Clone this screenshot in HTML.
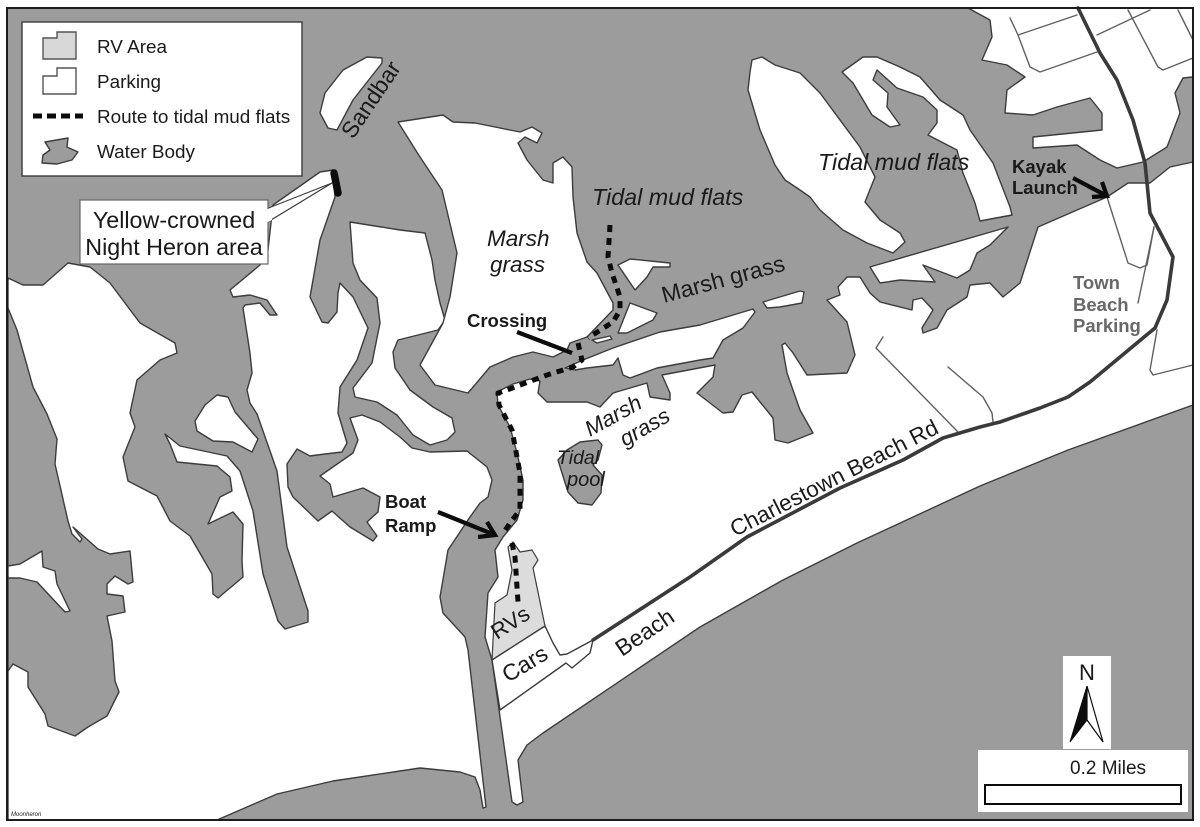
<!DOCTYPE html>
<html><head><meta charset="utf-8"><style>
html,body{margin:0;padding:0;background:#fff}
svg{display:block;filter:blur(0.35px)}
text{font-family:"Liberation Sans",sans-serif;fill:#1a1a1a}
.l{fill:#fff;stroke:#3c3c3c;stroke-width:1.4;stroke-linejoin:round}
.w{fill:#9c9c9c;stroke:#3c3c3c;stroke-width:1.4;stroke-linejoin:round}
.s{fill:none;stroke:#606060;stroke-width:1.4;stroke-linejoin:round;stroke-linecap:round}
.b{font-weight:bold;font-size:18.5px}
.i{font-style:italic}
.g{fill:#686868}
.d{fill:none;stroke:#0c0c0c;stroke-width:5;stroke-dasharray:7 6;stroke-linejoin:round}
.a{fill:none;stroke:#0c0c0c;stroke-width:4.2;stroke-linejoin:miter}
.r{fill:none;stroke:#3a3a3a;stroke-width:3.6;stroke-linejoin:round;stroke-linecap:round}
</style></head><body>
<svg width="1200" height="827" viewBox="0 0 1200 827" xmlns="http://www.w3.org/2000/svg">
<rect width="1200" height="827" fill="#fff"/>
<rect x="7" y="8" width="1186" height="812" fill="#9c9c9c"/>

<!-- West / main land -->
<polygon class="l" points="8,278 23,285 43,285 68,263 90,267 110,283 140,323 175,343 177,353 160,360 137,380 130,413 135,427 123,457 128,481 157,496 170,521 190,536 212,574 213,594 218,598 243,577 242,561 243,524 233,512 208,524 220,497 232,491 230,477 217,466 177,462 170,444 165,434 180,446 227,456 240,471 253,511 263,574 278,621 285,629 308,622 308,611 287,547 277,471 263,431 257,414 250,403 247,390 252,373 250,353 243,308 245,305 260,303 270,315 277,315 267,300 250,295 233,297 230,290 260,265 268,250 273,205 320,172 333,170 335,197 320,240 310,297 322,322 328,323 337,312 338,293 340,283 353,297 368,328 357,360 340,387 338,413 347,443 342,452 317,455 310,456 297,449 287,464 288,487 293,497 318,521 332,511 350,527 373,541 377,536 367,522 378,512 380,497 363,488 333,497 330,484 320,476 353,453 358,440 350,418 362,415 380,422 400,437 412,448 430,452 467,451 487,467 492,480 488,497 480,503 470,517 448,550 440,597 443,613 465,637 468,650 486,807 483,808 480,790 475,777 460,772 420,768 400,771 333,781 277,794 217,820 8,820"/>
<!-- West water body -->
<polygon class="w" points="8,308 17,330 33,387 47,414 57,439 55,464 68,521 72,534 80,542 82,539 73,527 98,549 110,554 130,551 133,582 128,584 115,576 107,584 107,594 123,596 125,612 107,616 112,641 115,681 119,692 107,716 88,727 75,736 48,726 45,714 28,687 28,672 13,664 8,671"/>
<polygon class="l" points="8,566 20,564 42,551 43,567 55,571 57,584 70,611 65,612 37,582 20,578 8,578"/>
<!-- Island in channel -->
<polygon class="l" points="195,421 205,405 217,395 228,397 235,412 258,439 252,452 233,442 213,441 197,431"/>
<!-- Land C -->
<polygon class="l" points="350,222 400,230 425,233 432,260 435,280 440,303 445,320 438,330 398,340 393,352 395,368 410,390 433,407 452,418 455,432 447,440 430,445 413,435 397,415 377,402 355,397 353,388 372,363 380,323 377,298 360,280 353,263"/>
<!-- Marsh island -->
<polygon class="l" points="398,122 443,115 453,122 475,123 500,128 520,132 532,127 542,133 537,143 525,137 518,143 527,160 543,180 553,183 553,163 563,157 572,167 573,197 577,233 587,262 597,273 613,303 613,310 587,337 570,343 567,350 553,357 533,352 513,357 490,367 468,393 435,385 420,365 443,323 450,297 457,253 442,190 420,157"/>
<!-- Sandbar -->
<polygon class="l" points="382,58 367,57 343,70 325,93 320,113 328,128 337,130 353,100 382,63"/>
<!-- Small marsh islets -->
<polygon class="l" points="618,265 630,259 670,263 670,267 653,267 647,277 635,290"/>
<polygon class="l" points="618,333 630,303 657,313 653,320 627,333"/>
<polygon class="l" points="592,340 610,336 612,339 597,343"/>
<polygon class="l" points="763,302 800,291 804,292 802,303 780,307 767,308"/>
<!-- Peninsula -->
<polygon class="l" points="565,368 583,360 613,348 660,332 700,325 753,309 755,312 743,328 723,340 713,358 700,360 657,368 630,378 623,375 618,358 613,365 587,368 575,370"/>
<!-- South-east land -->
<polygon class="l" points="497,392 513,384 530,379 540,381 538,393 547,402 587,402 600,407 613,393 647,383 650,397 670,400 670,393 662,375 715,365 713,377 697,393 723,413 733,412 742,395 752,392 773,418 775,440 788,443 813,433 800,410 787,373 782,345 785,343 793,353 807,375 847,373 855,355 847,322 827,300 840,295 838,287 847,277 860,277 870,293 880,302 912,310 913,300 922,298 933,310 922,328 923,333 937,328 947,310 967,297 970,285 990,283 1003,297 1020,283 1038,227 1107,197 1128,183 1150,183 1170,167 1193,162 1193,405 1068,450 980,486 857,543 783,580 700,627 543,733 527,745 518,760 523,802 517,805 512,802 492,660 485,637 488,593 498,577 495,550 503,537 517,520 523,500 523,480 517,453 510,427 498,405"/>
<!-- Tidal pool -->
<polygon class="w" points="580,442 598,440 602,445 598,460 593,465 602,475 601,493 592,505 578,503 568,492 562,473 558,460 567,450"/>
<!-- Tidal mudflats -->
<polygon class="l" points="750,72 752,60 762,57 775,65 800,73 820,93 860,147 875,177 865,202 880,220 900,233 905,242 893,253 867,243 843,230 820,210 810,197 800,190 785,180 775,165 760,130 748,90"/>
<polygon class="l" points="842,72 863,57 877,57 900,67 920,77 940,100 963,115 970,130 993,163 1010,207 1012,215 980,221 975,203 963,173 957,150 928,135 937,123 937,110 923,97 897,88 877,70 873,80 888,93 887,107 900,125 890,127 872,115 853,83"/>
<polygon class="l" points="870,267 887,262 1008,227 990,245 977,253 970,270 957,278 923,265 935,282 900,280 880,283"/>
<!-- NE land -->
<polygon class="l" points="968,8 990,20 992,37 982,60 1007,65 1025,77 1007,90 1005,113 1033,115 1057,107 1090,98 1102,113 1102,130 1033,137 1033,148 1077,145 1100,160 1117,168 1143,162 1167,147 1180,113 1175,93 1183,78 1193,77 1193,8"/>

<!-- streets -->
<polyline class="s" points="1010,18 1018,35 1030,67 1040,72 1097,52"/>
<polyline class="s" points="1018,35 1077,15"/>
<polyline class="s" points="1097,35 1150,10"/>
<polyline class="s" points="1128,10 1158,67 1163,70 1193,58"/>
<polyline class="s" points="1178,10 1193,40"/>
<polyline class="s" points="1107,197 1128,263 1140,268 1147,265 1154,227"/>
<polyline class="s" points="1154,227 1138,303"/>
<polyline class="s" points="1157,330 1150,370 1153,375 1193,365"/>
<polyline class="s" points="883,337 876,348 958,432"/>
<polyline class="s" points="948,367 983,397 992,413 993,422"/>

<!-- RV + cars -->
<polygon fill="#dcdcdc" stroke="#3c3c3c" stroke-width="1.2" stroke-linejoin="round" points="492,660 495,603 507,595 512,570 508,547 513,542 520,552 532,550 538,560 533,568 545,626"/>
<polygon class="l" stroke-width="1.2" points="492,660 545,626 553,643 560,655 567,654 593,640 590,653 572,668 566,663 500,710"/>

<!-- road -->
<polyline class="r" points="593,640 690,577 747,537 840,488 903,460 943,438 980,427 1000,422 1040,408 1068,397 1090,382 1155,328 1167,300 1173,257 1150,213 1145,163 1133,120 1117,80 1100,53 1078,8"/>

<!-- route -->
<polyline class="d" points="610,225 608,257 612,273 620,297 620,310 613,322 588,338"/>
<polyline class="d" points="578,343 582,360 573,367 547,375 507,390 498,393 499,405 512,430 520,473 520,510 510,523 502,535"/>
<polyline class="d" points="512,543 515,557 518,602"/>

<!-- arrows -->
<line class="a" x1="517" y1="332" x2="572" y2="353"/>
<line class="a" x1="438" y1="512" x2="495" y2="535"/>
<polyline class="a" points="487,522 495,535 478,537"/>
<line class="a" x1="1073" y1="178" x2="1107" y2="196"/>
<polyline class="a" points="1102,182 1107,196 1092,197"/>

<!-- Legend -->
<rect x="22" y="22" width="280" height="154" fill="#fff" stroke="#3c3c3c" stroke-width="1.4"/>
<polygon fill="#d8d8d8" stroke="#555" stroke-width="1.4" points="43,38 57,38 57,32 76,32 76,59 43,59"/>
<polygon fill="#fff" stroke="#555" stroke-width="1.4" points="43,76 57,76 57,68 76,68 76,94 43,94"/>
<line x1="33" y1="116" x2="83" y2="116" stroke="#0c0c0c" stroke-width="5" stroke-dasharray="9 5"/>
<polygon class="w" points="42,163 43,155 50,150 45,142 68,138 67,147 78,152 72,160 57,164"/>
<text x="97" y="53" font-size="18.9">RV Area</text>
<text x="97" y="88" font-size="18.9">Parking</text>
<text x="97" y="123" font-size="18.9">Route to tidal mud flats</text>
<text x="97" y="158" font-size="18.9">Water Body</text>

<!-- Heron callout -->
<polygon fill="#fff" stroke="#3c3c3c" stroke-width="1.2" points="266,209 332,183 266,223"/>
<rect x="80" y="200" width="188" height="64" fill="#fff" stroke="#666" stroke-width="1.2"/>
<polygon fill="#fff" points="264,210 272,208 272,220 264,224"/>
<line x1="334" y1="173" x2="338" y2="193" stroke="#0c0c0c" stroke-width="7.5" stroke-linecap="round"/>
<text x="174" y="228" font-size="23.3" text-anchor="middle">Yellow-crowned</text>
<text x="174" y="255" font-size="23.3" text-anchor="middle">Night Heron area</text>

<!-- Labels -->
<text font-size="23" transform="translate(353,140) rotate(-56)">Sandbar</text>
<text class="i" x="487" y="246" font-size="22.5">Marsh</text>
<text class="i" x="490" y="272" font-size="22.5">grass</text>
<text class="i" x="592" y="205" font-size="23.3">Tidal mud flats</text>
<text class="i" x="818" y="170" font-size="23.3">Tidal mud flats</text>
<text font-size="23" transform="translate(664,303) rotate(-15)">Marsh grass</text>
<text class="i" font-size="22" transform="translate(590,437) rotate(-29)">Marsh</text>
<text class="i" font-size="22" transform="translate(625,447) rotate(-30)">grass</text>
<text class="i" x="557" y="464" font-size="19.5">Tidal</text>
<text class="i" x="567" y="486" font-size="20">pool</text>
<text class="b" x="467" y="327">Crossing</text>
<text class="b" x="385" y="508">Boat</text>
<text class="b" x="385" y="532">Ramp</text>
<text class="b" x="1012" y="173">Kayak</text>
<text class="b" x="1012" y="194">Launch</text>
<text class="b g" x="1073" y="289">Town</text>
<text class="b g" x="1073" y="311">Beach</text>
<text class="b g" x="1073" y="332">Parking</text>
<text font-size="22.5" transform="translate(735,537) rotate(-27)">Charlestown Beach Rd</text>
<text font-size="23" transform="translate(622,657) rotate(-34)">Beach</text>
<text font-size="23" transform="translate(508,683) rotate(-31)">Cars</text>
<text font-size="22" transform="translate(497,640) rotate(-33)">RVs</text>
<text x="11" y="816" font-size="6" class="i">Moonheron</text>

<!-- North + scale -->
<rect x="1063" y="656" width="48" height="93" fill="#fff"/>
<text x="1087" y="680" font-size="22" text-anchor="middle">N</text>
<polygon fill="#0c0c0c" stroke="#0c0c0c" stroke-width="1" points="1087,686 1070,742 1087,720"/>
<polygon fill="#fff" stroke="#0c0c0c" stroke-width="1.2" points="1087,686 1103,742 1087,720"/>
<rect x="978" y="750" width="210" height="62" fill="#fff"/>
<text x="1070" y="774" font-size="19">0.2 Miles</text>
<rect x="985" y="785" width="196" height="19" fill="#fff" stroke="#0c0c0c" stroke-width="2"/>

<!-- Frame -->
<rect x="7" y="8" width="1186" height="812" fill="none" stroke="#1c1c1c" stroke-width="2"/>
</svg>
</body></html>
